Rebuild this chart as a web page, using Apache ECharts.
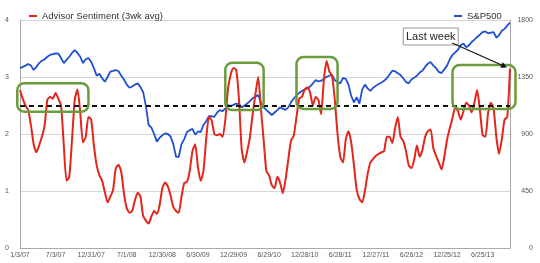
<!DOCTYPE html>
<html>
<head>
<meta charset="utf-8">
<script src="https://cdn.jsdelivr.net/npm/echarts@6/dist/echarts.min.js"></script>
<style>
html,body{margin:0;padding:0;background:#fff;}
#chart{width:540px;height:263px;}
</style>
</head>
<body>
<div id="chart"></div>
<script>
// Tick labels shown on the x axis (one every 13 biweekly points)
const tickLabels = ['1/3/07','7/3/07','12/31/07','7/1/08','12/30/08','6/30/09','12/29/09','6/29/10','12/28/10','6/28/11','12/27/11','6/26/12','12/25/12','6/25/13'];

// Advisor sentiment (3wk avg), biweekly readings from 1/3/07
const sentiment = [
2.77,2.62,2.50,2.42,2.15,1.82,1.68,1.80,1.95,2.15,
2.60,2.65,2.62,2.72,2.62,2.50,1.80,1.18,1.25,1.90,
2.60,2.78,2.38,1.85,1.95,2.30,2.25,1.80,1.45,1.28,
1.18,0.98,0.80,0.90,1.02,1.40,1.46,1.33,0.95,0.70,
0.62,0.65,0.84,0.97,0.90,0.56,0.48,0.43,0.55,0.65,
0.60,0.75,1.05,1.15,1.08,0.92,0.72,0.65,0.62,0.90,
1.14,1.16,1.35,1.70,1.82,1.42,1.18,1.35,1.90,2.30,
2.24,2.00,1.98,2.00,1.95,2.25,2.80,3.05,3.16,3.12,
2.60,1.72,1.50,1.70,1.95,2.35,2.70,3.00,2.45,1.90,
1.35,1.27,1.10,1.05,1.25,1.15,0.96,1.20,1.55,1.88,
1.97,2.30,2.62,2.65,2.78,2.82,2.72,2.50,2.65,2.60,
2.35,2.95,3.28,3.10,3.02,2.60,2.00,1.60,1.50,1.90,
2.05,1.85,1.45,1.02,0.86,0.80,1.00,1.30,1.50,1.56,
1.62,1.65,1.68,1.70,1.95,1.95,1.84,2.10,2.30,1.95,
1.88,1.70,1.45,1.40,1.55,1.80,1.60,1.72,1.95,2.05,
2.08,1.75,1.62,1.50,1.38,1.60,1.90,2.10,2.28,2.47,
2.40,2.25,2.40,2.55,2.50,2.38,2.55,2.77,2.42,1.98,
1.95,2.37,2.55,2.45,1.95,1.65,1.90,2.25,2.30,3.15
];

// S&P500 level, same dates
const sp500 = [
1419,1430,1440,1452,1440,1405,1430,1460,1478,1490,
1510,1524,1530,1537,1535,1500,1460,1485,1510,1540,
1563,1540,1510,1460,1490,1500,1470,1420,1360,1375,
1340,1313,1350,1392,1398,1405,1395,1360,1330,1290,
1265,1275,1290,1300,1270,1230,1120,971,950,900,
840,870,890,905,900,880,820,720,720,820,
860,916,930,940,895,920,915,971,1000,1040,
1040,1035,1070,1089,1080,1100,1129,1120,1130,1140,
1135,1110,1125,1140,1160,1184,1195,1208,1150,1110,
1090,1070,1050,1070,1089,1110,1100,1090,1110,1150,
1180,1205,1225,1240,1250,1260,1275,1300,1326,1315,
1320,1335,1352,1360,1366,1325,1310,1300,1342,1335,
1290,1200,1150,1190,1140,1250,1290,1260,1240,1265,
1280,1295,1305,1320,1340,1370,1400,1395,1380,1365,
1340,1310,1300,1330,1345,1360,1385,1400,1430,1455,
1468,1440,1420,1390,1381,1410,1440,1490,1524,1545,
1565,1600,1615,1585,1600,1626,1645,1666,1685,1705,
1710,1695,1700,1705,1660,1680,1715,1730,1755,1780
];

// Reference level drawn as the dashed line
const threshold = 2.5;

// Highlighted regions: [startIndex, endIndex, lowValue, highValue]
const highlightBoxes = [
  [-1, 24.5, 2.39, 2.89],
  [74.5, 88.8, 2.42, 3.25],
  [100.8, 115.8, 2.44, 3.35],
  [158, 181, 2.44, 3.21]
];

const calloutText = 'Last week';

// Biweekly category dates
const categories = sentiment.map((_, i) => {
  const d = new Date(2007, 0, 3 + 14 * i);
  return (d.getMonth() + 1) + '/' + d.getDate() + '/' + String(d.getFullYear()).slice(2);
});

const FONT = '"Liberation Sans", Arial, sans-serif';
const RED = '#e2261c';
const BLUE = '#2050d2';

const chart = echarts.init(document.getElementById('chart'), null, {renderer: 'canvas'});

chart.setOption({
  animation: false,
  backgroundColor: '#fff',
  textStyle: {fontFamily: FONT},
  grid: {left: 20, right: 30, top: 20, bottom: 15, containLabel: false},
  legend: [
    {data: ['Advisor Sentiment (3wk avg)'], left: 24, top: 6, icon: 'rect', itemWidth: 8, itemHeight: 2,
     textStyle: {fontSize: 9.5, color: '#333', fontFamily: FONT}},
    {data: ['S&P500'], left: 449, top: 6, icon: 'rect', itemWidth: 8, itemHeight: 2,
     textStyle: {fontSize: 9.5, color: '#333', fontFamily: FONT}}
  ],
  xAxis: {
    type: 'category',
    data: categories,
    boundaryGap: false,
    axisLine: {lineStyle: {color: '#aaa', width: 1}},
    axisTick: {show: false},
    axisLabel: {
      interval: 12, margin: 4, fontSize: 7, color: '#555', fontFamily: FONT,
      formatter: (v, idx) => (idx % 13 === 0 && tickLabels[idx / 13]) ? tickLabels[idx / 13] : ''
    },
    splitLine: {show: false}
  },
  yAxis: [
    {
      type: 'value', min: 0, max: 4, interval: 1, position: 'left',
      axisLine: {show: true, lineStyle: {color: '#aaa'}},
      axisTick: {show: false},
      axisLabel: {fontSize: 7, color: '#555', margin: 11, fontFamily: FONT},
      splitLine: {show: true, lineStyle: {color: '#d6d6d6', width: 1}}
    },
    {
      type: 'value', min: 0, max: 1800, interval: 450, position: 'right',
      axisLine: {show: true, lineStyle: {color: '#aaa'}},
      axisTick: {show: false},
      axisLabel: {fontSize: 7, color: '#555', margin: 23, align: 'right', fontFamily: FONT,
                  formatter: v => String(v)},
      splitLine: {show: false}
    }
  ],
  series: [
    {
      name: 'S&P500', type: 'line', yAxisIndex: 1, data: sp500,
      showSymbol: false, symbol: 'none',
      lineStyle: {color: BLUE, width: 1.8}, itemStyle: {color: BLUE}, z: 2
    },
    {
      name: 'Advisor Sentiment (3wk avg)', type: 'line', yAxisIndex: 0, data: sentiment,
      showSymbol: false, symbol: 'none', smooth: 0.2,
      lineStyle: {color: RED, width: 2}, itemStyle: {color: RED}, z: 3,
      markLine: {
        silent: true, symbol: 'none', label: {show: false},
        lineStyle: {color: '#111', type: [5, 4], width: 2},
        data: [{yAxis: threshold}]
      }
    }
  ]
});

function px(idx, val) { return chart.convertToPixel({xAxisIndex: 0, yAxisIndex: 0}, [idx, val]); }

const graphics = [];
highlightBoxes.forEach(b => {
  const p1 = px(b[0], b[3]);
  const p2 = px(b[1], b[2]);
  graphics.push({
    type: 'rect', z: 10,
    shape: {x: p1[0], y: p1[1], width: p2[0] - p1[0], height: p2[1] - p1[1], r: 7},
    style: {fill: 'none', stroke: '#6b9c3c', lineWidth: 2.5}
  });
});

// Callout box with arrow to the last sentiment reading
const lastIdx = sentiment.length - 1;
const lastPt = px(lastIdx, sentiment[lastIdx]);
const boxTL = px(140, 3.86);
const boxW = 55, boxH = 17;
graphics.push({
  type: 'rect', z: 11,
  shape: {x: boxTL[0], y: boxTL[1], width: boxW, height: boxH},
  style: {fill: '#fff', stroke: '#999', lineWidth: 1}
});
graphics.push({
  type: 'text', z: 12,
  style: {x: boxTL[0] + boxW / 2, y: boxTL[1] + boxH / 2 + 0.5, text: calloutText, align: 'center', verticalAlign: 'middle',
          font: '11px ' + FONT, fill: '#222'}
});
const a0 = [boxTL[0] + boxW - 6, boxTL[1] + boxH - 2];
const a1 = [lastPt[0] - 3, lastPt[1] - 1];
const dx = a1[0] - a0[0], dy = a1[1] - a0[1];
const len = Math.sqrt(dx * dx + dy * dy), ux = dx / len, uy = dy / len;
const ah = 6, aw = 3;
const base = [a1[0] - ux * ah, a1[1] - uy * ah];
graphics.push({
  type: 'line', z: 12,
  shape: {x1: a0[0], y1: a0[1], x2: base[0], y2: base[1]},
  style: {stroke: '#111', lineWidth: 1.2}
});
graphics.push({
  type: 'polygon', z: 12,
  shape: {points: [a1, [base[0] - uy * aw, base[1] + ux * aw], [base[0] + uy * aw, base[1] - ux * aw]]},
  style: {fill: '#111'}
});

chart.setOption({graphic: graphics});
</script>
</body>
</html>
